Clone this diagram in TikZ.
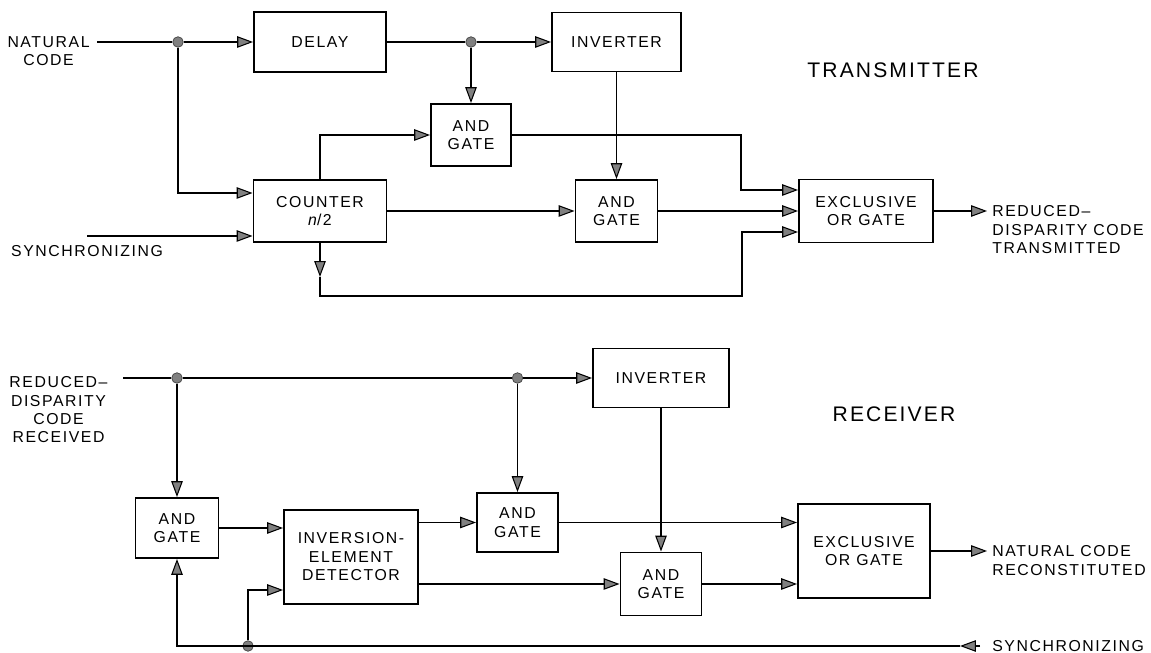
\documentclass[tikz,border=0pt]{standalone}
\usepackage{fontspec}
\setmainfont{Liberation Sans}[LetterSpace=10]
\usepackage{tikz}
\usetikzlibrary{positioning, arrows.meta, calc}

\begin{document}
\begin{tikzpicture}[
    box/.style={draw, rectangle, align=center, fill=white, line width=1.1pt, inner sep=0pt, font=\fontsize{9}{10.5}\selectfont},
    lbl/.style={align=center, inner sep=0pt, font=\fontsize{9}{10.5}\selectfont},
    title/.style={inner sep=0pt, font=\fontsize{12}{14}\selectfont},
    dot/.style={circle, fill=gray, draw=gray!50!black, line width=0.4pt, inner sep=0pt, minimum size=6pt},
    arrow/.style={-{Triangle[length=9pt, width=6.5pt, fill=gray, line width=0.6pt]}, line width=1.1pt},
    line/.style={line width=1.1pt}
]
\useasboundingbox (0,0) rectangle (23.02,-13.06);

% --- TRANSMITTER ---
\node[box, minimum width=2.64cm, minimum height=1.2cm] (delay) at (6.4, -0.84) {DELAY};
\node[box, minimum width=2.58cm, minimum height=1.18cm] (inv) at (12.33, -0.84) {INVERTER};
\node[box, minimum width=1.6cm, minimum height=1.24cm] (and1) at (9.42, -2.7) {AND\\GATE};
\node[box, minimum width=2.66cm, minimum height=1.24cm] (counter) at (6.4, -4.22) {COUNTER\\{\itshape n}/2};
\node[box, minimum width=1.64cm, minimum height=1.24cm] (and2) at (12.33, -4.22) {AND\\GATE};
\node[box, minimum width=2.68cm, minimum height=1.26cm] (exor) at (17.32, -4.22) {EXCLUSIVE\\OR GATE};

\node[dot] (d1) at (3.56, -0.84) {};
\node[dot] (d2) at (9.42, -0.84) {};

\node[lbl, anchor=north east, inner xsep=0.14cm] (nat) at (1.94, -0.725) {NATURAL\\CODE};
\coordinate (syncin) at (1.74, -4.72);
\node[lbl, below=0.18cm of syncin] (sync) {SYNCHRONIZING};
\node[lbl, align=left, anchor=north west, inner xsep=0.1cm] (txlab) at (19.74, -4.105) {REDUCED--\\DISPARITY CODE\\TRANSMITTED};
\node[title] (tx) at (17.86, -1.4) {TRANSMITTER};

\coordinate (cmid) at (6.4, -5.54);
\coordinate (lp) at (14.84, -5.92);
\coordinate (jn) at (14.82, -3.0);

\draw[line] (nat.east |- d1) -- (d1);
\draw[arrow] (d1) -- (delay.west);
\draw[line] (delay.east) -- (d2);
\draw[arrow] (d2) -- (inv.west);
\draw[arrow] (d2) -- (and1.north);
\draw[arrow] (d1) |- ([yshift=0.36cm]counter.west);
\draw[arrow] (syncin) -- ([yshift=-0.5cm]counter.west);
\draw[arrow] (counter.north) |- (and1.west);
\draw[arrow] (counter.east) -- (and2.west);
\draw[arrow] (inv.south) -- (and2.north);
\draw[arrow] (and1.east) -| (jn) |- ([yshift=0.42cm]exor.west);
\draw[arrow] (and2.east) -- (exor.west);
\draw[arrow] (counter.south) -- (cmid);
\draw[arrow] (cmid) |- (lp) |- ([yshift=-0.42cm]exor.west);
\draw[arrow] (exor.east) -- (exor.east -| txlab.west);

% --- RECEIVER ---
\node[box, minimum width=2.72cm, minimum height=1.18cm] (invr) at (13.22, -7.56) {INVERTER};
\node[box, minimum width=1.66cm, minimum height=1.2cm] (andr1) at (3.54, -10.56) {AND\\GATE};
\node[box, minimum width=2.68cm, minimum height=1.88cm] (det) at (7.02, -11.14) {INVERSION-\\ELEMENT\\DETECTOR};
\node[box, minimum width=1.62cm, minimum height=1.18cm] (andr2) at (10.35, -10.45) {AND\\GATE};
\node[box, minimum width=1.62cm, minimum height=1.26cm] (andr3) at (13.22, -11.68) {AND\\GATE};
\node[box, minimum width=2.64cm, minimum height=1.88cm] (exr) at (17.28, -11.02) {EXCLUSIVE\\OR GATE};

\node[dot] (r1) at (3.54, -7.56) {};
\node[dot] (r2) at (10.35, -7.56) {};
\node[dot] (r3) at (4.96, -12.92) {};

\coordinate (rin) at (2.46, -7.56);
\node[lbl, anchor=north] (rlab) at (1.17, -7.525) {REDUCED--\\DISPARITY\\CODE\\RECEIVED};
\node[lbl, align=left, anchor=north west, inner xsep=0.1cm] (rxlab) at (19.74, -10.905) {NATURAL CODE\\RECONSTITUTED};
\node[lbl, anchor=west, inner xsep=0.24cm] (sr) at (19.6, -12.92) {SYNCHRONIZING};
\node[title] (rx) at (17.88, -8.28) {RECEIVER};

\coordinate (srtip) at (19.2, -12.92);

\draw[line] (rin) -- (r1) -- (r2);
\draw[arrow] (r2) -- (invr.west);
\draw[arrow] (r1) -- (andr1.north);
\draw[arrow] (r2) -- (andr2.north);
\draw[arrow] (andr1.east) -- (andr1.east -| det.west);
\draw[arrow] (det.east |- andr2.west) -- (andr2.west);
\draw[arrow] (det.east |- andr3.west) -- (andr3.west);
\draw[arrow] (invr.south) -- (andr3.north);
\draw[arrow] (andr2.east) -- (andr2.east -| exr.west);
\draw[arrow] (andr3.east) -- (andr3.east -| exr.west);
\draw[arrow] (exr.east) -- (exr.east -| rxlab.west);
\draw[arrow] (sr.west) -- (srtip);
\draw[arrow] (srtip) -| (andr1.south);
\draw[arrow] (r3) |- ([yshift=-0.66cm]det.west);
\end{tikzpicture}
\end{document}
